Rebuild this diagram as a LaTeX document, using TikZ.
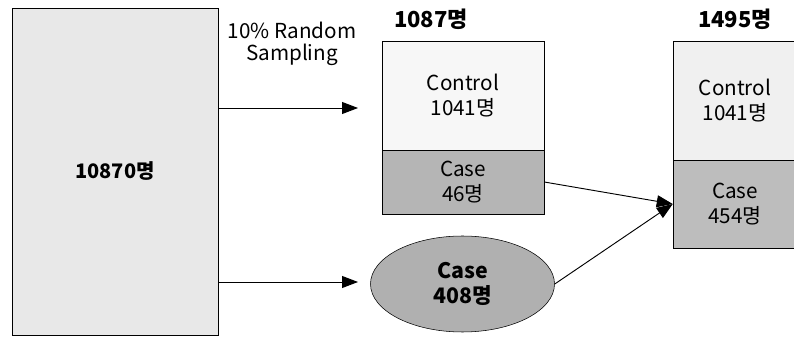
\documentclass[tikz,border=0pt]{standalone}
\usepackage{fontspec}
\setmainfont{Noto Sans CJK KR}
\usetikzlibrary{arrows.meta,shapes.geometric}

\begin{document}
\begin{tikzpicture}[x=0.75pt, y=-0.75pt]
	\tikzstyle{block}   = [rectangle, draw=black, inner sep=0pt, align=center, font=\fontsize{15.5}{19}\selectfont]
	\tikzstyle{title}   = [font=\fontsize{16.5}{19}\selectfont\bfseries]
	\tikzstyle{flow}    = [-{Triangle[length=12pt, width=9pt]}, line width=0.7pt]

	\useasboundingbox (0,0) rectangle (794,338);

	% population
	\node[block, fill=gray!18, minimum width=206*0.75pt, minimum height=327*0.75pt, font=\fontsize{15}{19}\selectfont\bfseries] (pop) at (115,171.5) {10870명};

	% sample
	\node[block, fill=gray!6,  minimum width=162*0.75pt, minimum height=109*0.75pt] (ctla) at (463,95.5) {Control\\1041명};
	\node[block, fill=gray!58, minimum width=162*0.75pt, minimum height=64*0.75pt]  (casea) at (463,182) {Case\\46명};
	\node[title] (tita) at (431,19) {1087명};

	% extra cases
	\node[ellipse, draw=black, fill=gray!62, minimum width=184*0.75pt, minimum height=96*0.75pt, inner sep=0pt, align=center, font=\fontsize{16}{19}\selectfont\bfseries] (ell) at (462.5,284) {Case\\408명};

	% final set
	\node[block, fill=gray!12, minimum width=124*0.75pt, minimum height=119*0.75pt] (ctlb) at (735,100.5) {Control\\1041명};
	\node[block, fill=gray!52, minimum width=124*0.75pt, minimum height=88*0.75pt]  (caseb) at (735,204) {Case\\454명};
	\node[title] (titb) at (735,19) {1495명};

	\coordinate (ta) at (358,108);
	\coordinate (tb) at (358,282);
	\node[align=center, font=\fontsize{15.5}{17}\selectfont] (samp) at (292,44) {10\% Random\\Sampling};

	\draw[flow] (pop.east |- ta) -- (ta);
	\draw[flow] (pop.east |- tb) -- (tb);
	\draw[flow] (casea.east) -- (caseb.west);
	\draw[flow] (ell.east) -- (caseb.west);
\end{tikzpicture}
\end{document}
